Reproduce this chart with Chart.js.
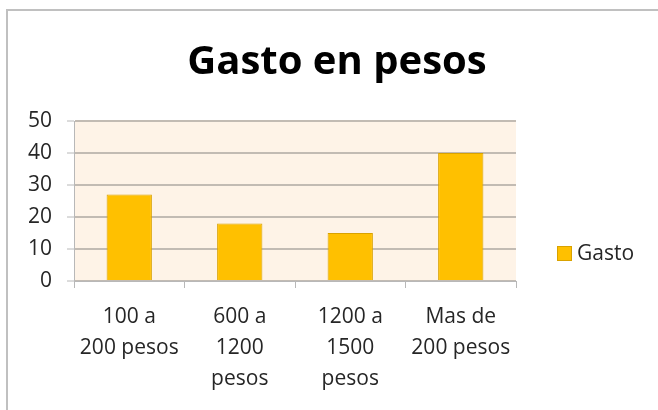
<!DOCTYPE html>
<html>
<head>
<meta charset="utf-8">
<script src="https://cdn.jsdelivr.net/npm/chart.js@4/dist/chart.umd.min.js"></script>
<style>
  html, body { margin: 0; padding: 0; background: #fff; }
  #wrap { position: relative; width: 658px; height: 410px; }
  #frame {
    position: absolute; left: 6px; top: 9px; right: 0; bottom: 0;
    border-left: 2px solid #c0c0c0; border-top: 2px solid #c0c0c0;
  }
  canvas { position: absolute; left: 0; top: 0; }
</style>
</head>
<body>
<div id="wrap">
  <div id="frame"></div>
  <canvas id="chart" width="658" height="410"></canvas>
</div>
<script>
  // datos
  const categorias = [
    ['100 a', '200 pesos'],
    ['600 a', '1200', 'pesos'],
    ['1200 a', '1500', 'pesos'],
    ['Mas de', '200 pesos'],
  ];
  const gasto = [27, 18, 15, 40];
  const serieNombre = 'Gasto';
  const titulo = 'Gasto en pesos';

  const FONT = "'Open Sans', sans-serif";
  const TXT = '#262626';

  // fondo del área de trazado
  const fondoArea = {
    id: 'fondoArea',
    beforeDraw(chart) {
      const { ctx, chartArea: a } = chart;
      ctx.save();
      ctx.fillStyle = '#fef3e7';
      ctx.fillRect(a.left, a.top, a.right - a.left, a.bottom - a.top);
      ctx.restore();
    },
  };

  // leyenda a la derecha (estilo Excel)
  const leyenda = {
    id: 'leyenda',
    afterDraw(chart) {
      const { ctx } = chart;
      const ds = chart.data.datasets[0];
      ctx.save();
      ctx.fillStyle = ds.backgroundColor;
      ctx.strokeStyle = ds.borderColor;
      ctx.lineWidth = 1;
      ctx.fillRect(557, 246, 15, 15);
      ctx.strokeRect(557.5, 246.5, 14, 14);
      ctx.fillStyle = TXT;
      ctx.font = `21px ${FONT}`;
      ctx.textBaseline = 'middle';
      ctx.fillText(ds.label, 577, 254);
      ctx.restore();
    },
  };

  new Chart(document.getElementById('chart'), {
    type: 'bar',
    data: {
      labels: categorias,
      datasets: [{
        label: serieNombre,
        data: gasto,
        backgroundColor: '#ffc000',
        borderColor: '#d9a200',
        borderWidth: 1,
        categoryPercentage: 1,
        barPercentage: 0.41,
      }],
    },
    options: {
      responsive: false,
      animation: false,
      layout: { padding: { left: 16, right: 0, top: 0, bottom: 0 } },
      scales: {
        x: {
          afterFit: s => { s.height = 129; },
          grid: {
            offset: true,
            drawOnChartArea: false,
            drawTicks: true,
            tickLength: 7,
            color: '#b8b8b8',
            lineWidth: 1,
          },
          border: { color: '#b8b8b8', width: 1 },
          ticks: {
            color: TXT,
            font: { family: FONT, size: 21, lineHeight: 1.48 },
            padding: 13,
            maxRotation: 0,
            autoSkip: false,
          },
        },
        y: {
          min: 0, max: 50,
          afterFit: s => { s.width = 58; },
          grid: {
            color: '#c2bbb3',
            lineWidth: 2,
            tickLength: 7,
            tickColor: '#b8b8b8',
            tickWidth: 1,
          },
          border: { color: '#b8b8b8', width: 1 },
          ticks: {
            stepSize: 10,
            color: TXT,
            font: { family: FONT, size: 21 },
            padding: 15,
          },
        },
        // espacio reservado para la leyenda
        hueco: {
          type: 'linear',
          position: 'right',
          display: true,
          afterFit: s => { s.width = 142; },
          grid: { display: false, drawOnChartArea: false },
          border: { display: false },
          ticks: { display: false },
        },
      },
      plugins: {
        legend: { display: false },
        tooltip: { enabled: false },
        title: {
          display: true,
          text: titulo,
          color: '#000',
          font: { family: FONT, size: 40, weight: 'bold', lineHeight: 1.2 },
          padding: { top: 39, bottom: 34 },
        },
      },
    },
    plugins: [fondoArea, leyenda],
  });
</script>
</body>
</html>
